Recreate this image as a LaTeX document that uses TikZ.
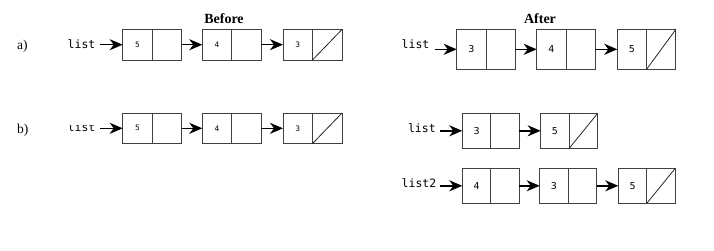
\documentclass[tikz,border=0pt]{standalone}
\usepackage{fontspec}
\setmainfont{Liberation Serif}
\newfontfamily\numfont{DejaVu Sans}
\newfontfamily\codefont{DejaVu Sans Mono}
\usetikzlibrary{arrows.meta}
\begin{document}
\begin{tikzpicture}[x=1pt,y=-1pt,
  cellS/.style={draw=black!75, line width=0.9pt, inner sep=0pt, outer sep=0pt,
     minimum width=29.5pt, minimum height=30.5pt, font=\numfont\fontsize{7.5}{8}\selectfont},
  cellL/.style={draw=black!75, line width=0.9pt, inner sep=0pt, outer sep=0pt,
     minimum width=29.3pt, minimum height=40pt, font=\numfont\fontsize{9.5}{10}\selectfont},
  cellM/.style={draw=black!75, line width=0.9pt, inner sep=0pt, outer sep=0pt,
     minimum width=28.5pt, minimum height=35pt, font=\numfont\fontsize{9.5}{10}\selectfont},
  arr/.style={line width=1.5pt, -{Stealth[length=13pt, width=11pt, inset=4pt]}},
  nil/.style={draw=black!85, line width=0.8pt},
  code/.style={font=\codefont\fontsize{11.5}{12}\selectfont, inner sep=0pt, anchor=base west},
  tag/.style={font=\fontsize{13.5}{14}\selectfont, inner sep=0pt, anchor=base west},
  head/.style={font=\bfseries\fontsize{14}{15}\selectfont, inner sep=0pt, anchor=base}]
\useasboundingbox (0,0) rectangle (714,250);

% ---------- titles and tags ----------
\node[head] (before) at (224,23.3) {Before};
\node[head] (after) at (540,23.3) {After};
\node[tag] (ta) at (17,49.5) {a)};
\node[tag] (tb) at (17,133.5) {b)};

% ---------- Before a ----------
\node[code] (lba) at (67.5,48.3) {list};
\node[cellS, anchor=west] (ba1) at (122.7,44.7) {5};
\node[cellS, anchor=west] (ba1r) at (ba1.east) {};
\node[cellS, anchor=west] (ba2) at (202.3,44.7) {4};
\node[cellS, anchor=west] (ba2r) at (ba2.east) {};
\node[cellS, anchor=west] (ba3) at (283,44.7) {3};
\node[cellS, anchor=west] (ba3r) at (ba3.east) {};
\draw[nil] (ba3r.south west) -- (ba3r.north east);
\coordinate (sba) at (100,44.7);
\draw[arr] (sba) -- (ba1.west);
\draw[arr] (ba1r.east) -- (ba2.west);
\draw[arr] (ba2r.east) -- (ba3.west);

% ---------- Before b ----------
\begin{scope}
  \clip (60,125) rectangle (100,140);
  \node[code] (lbb) at (67.5,131.7) {list};
\end{scope}
\node[cellS, anchor=west] (bb1) at (122.7,128.3) {5};
\node[cellS, anchor=west] (bb1r) at (bb1.east) {};
\node[cellS, anchor=west] (bb2) at (202.3,128.3) {4};
\node[cellS, anchor=west] (bb2r) at (bb2.east) {};
\node[cellS, anchor=west] (bb3) at (283,128.3) {3};
\node[cellS, anchor=west] (bb3r) at (bb3.east) {};
\draw[nil] (bb3r.south west) -- (bb3r.north east);
\coordinate (sbb) at (100,128.3);
\draw[arr] (sbb) -- (bb1.west);
\draw[arr] (bb1r.east) -- (bb2.west);
\draw[arr] (bb2r.east) -- (bb3.west);

% ---------- After a ----------
\node[code] (laa) at (401.5,48.3) {list};
\node[cellL, anchor=west] (aa1) at (456.7,49.3) {3};
\node[cellL, anchor=west] (aa1r) at (aa1.east) {};
\node[cellL, anchor=west] (aa2) at (536.7,49.3) {4};
\node[cellL, anchor=west] (aa2r) at (aa2.east) {};
\node[cellL, anchor=west] (aa3) at (617.3,49.3) {5};
\node[cellL, anchor=west] (aa3r) at (aa3.east) {};
\draw[nil] (aa3r.south west) -- (aa3r.north east);
\coordinate (saa) at (435,49.3);
\draw[arr] (saa) -- (aa1.west);
\draw[arr] (aa1r.east) -- (aa2.west);
\draw[arr] (aa2r.east) -- (aa3.west);

% ---------- After b: list ----------
\node[code] (lab) at (407.8,132.3) {list};
\node[cellM, anchor=west] (ab1) at (462.3,130.8) {3};
\node[cellM, anchor=west] (ab1r) at (ab1.east) {};
\node[cellM, anchor=west] (ab2) at (540.7,130.8) {5};
\node[cellM, anchor=west] (ab2r) at (ab2.east) {};
\draw[nil] (ab2r.south west) -- (ab2r.north east);
\coordinate (sab) at (440,130.8);
\draw[arr] (sab) -- (ab1.west);
\draw[arr] (ab1r.east) -- (ab2.west);

% ---------- After b: list2 ----------
\node[code] (lac) at (401.5,187.3) {list2};
\node[cellM, anchor=west] (ac1) at (462.3,185.8) {4};
\node[cellM, anchor=west] (ac1r) at (ac1.east) {};
\node[cellM, anchor=west] (ac2) at (539.7,185.8) {3};
\node[cellM, anchor=west] (ac2r) at (ac2.east) {};
\node[cellM, anchor=west] (ac3) at (618.3,185.8) {5};
\node[cellM, anchor=west] (ac3r) at (ac3.east) {};
\draw[nil] (ac3r.south west) -- (ac3r.north east);
\coordinate (sac) at (440,185.8);
\draw[arr] (sac) -- (ac1.west);
\draw[arr] (ac1r.east) -- (ac2.west);
\draw[arr] (ac2r.east) -- (ac3.west);
\end{tikzpicture}
\end{document}
